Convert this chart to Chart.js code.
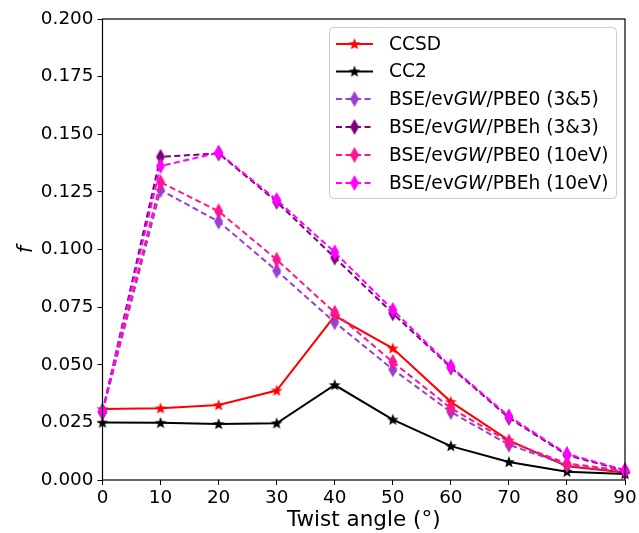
<!DOCTYPE html>
<html><head><meta charset="utf-8">
<script src="https://cdn.jsdelivr.net/npm/chart.js@4.4.0/dist/chart.umd.min.js"></script>
<style>html,body{margin:0;padding:0;background:#fff;}#wrap{width:639px;height:533px;position:relative;}</style>
</head><body><div id="wrap"><canvas id="c" width="639" height="533"></canvas></div>
<script>
const angles = [0,10,20,30,40,50,60,70,80,90];
const ccsd = [0.0308,0.0311,0.0325,0.0388,0.0712,0.0571,0.0339,0.0172,0.0060,0.0033];
const cc2 = [0.0249,0.0248,0.0243,0.0246,0.0412,0.0262,0.0147,0.0078,0.0036,0.0026];
const pbe0_35 = [0.0295,0.1258,0.1121,0.0908,0.0684,0.0480,0.0295,0.0153,0.0065,0.0037];
const pbeh_33 = [0.0295,0.1402,0.1417,0.1207,0.0965,0.0723,0.0488,0.0270,0.0108,0.0040];
const pbe0_10 = [0.0297,0.1292,0.1166,0.0956,0.0726,0.0512,0.0312,0.0166,0.0072,0.0040];
const pbeh_10 = [0.0297,0.1362,0.1420,0.1215,0.0988,0.0738,0.0492,0.0276,0.0113,0.0043];
const yTicks = [0,0.025,0.05,0.075,0.1,0.125,0.15,0.175,0.2];
const xTicks = [0,10,20,30,40,50,60,70,80,90];
const seriesNames = [
  ['CCSD'], ['CC2'],
  ['BSE/ev','GW','/PBE0 (3&5)'], ['BSE/ev','GW','/PBEh (3&3)'],
  ['BSE/ev','GW','/PBE0 (10eV)'], ['BSE/ev','GW','/PBEh (10eV)']
];
const colors = ['#ff0000','#000000','#9a3fd0','#7f007f','#ff1493','#ff00ff'];
const FONT = "'DejaVu Sans', sans-serif";

function starCanvas(color){
  const c=document.createElement('canvas'); c.width=14;c.height=14;
  const g=c.getContext('2d'); g.fillStyle=color; g.beginPath();
  const R=6.2,r=2.6,cx=7,cy=7.3;
  for(let i=0;i<10;i++){const rad=i%2?r:R;const a=-Math.PI/2+i*Math.PI/5;
    const x=cx+rad*Math.cos(a),y=cy+rad*Math.sin(a); i?g.lineTo(x,y):g.moveTo(x,y);}
  g.closePath(); g.fill(); return c;
}
function diamondCanvas(color){
  const c=document.createElement('canvas'); c.width=12;c.height=18;
  const g=c.getContext('2d'); g.fillStyle=color; g.beginPath();
  g.moveTo(6,1); g.lineTo(10.5,9); g.lineTo(6,17); g.lineTo(1.5,9); g.closePath(); g.fill(); return c;
}
const markers = colors.map((c,i)=> i<2 ? starCanvas(c) : diamondCanvas(c));
const dataArr = [ccsd,cc2,pbe0_35,pbeh_33,pbe0_10,pbeh_10];

const datasets = dataArr.map((d,i)=>({
  label: seriesNames[i].join(''),
  data: angles.map((a,j)=>({x:a,y:d[j]})),
  borderColor: colors[i], backgroundColor: colors[i],
  borderWidth: 2, borderDash: i<2?[]:[6,3.5],
  pointStyle: markers[i], pointRadius: 6, pointHoverRadius: 6,
  order: 6-i, tension:0, clip:false
}));

const layoutPlugin = {
  id:'frame',
  afterDatasetsDraw(chart){
    const {ctx, chartArea:a} = chart;
    ctx.save(); ctx.strokeStyle='#000'; ctx.lineWidth=1.2;
    ctx.strokeRect(a.left, a.top, a.right-a.left, a.bottom-a.top);
    // legend
    const bx=329.5, by=27.5, bw=287, bh=171;
    ctx.fillStyle='rgba(255,255,255,0.85)'; ctx.strokeStyle='#cccccc'; ctx.lineWidth=1;
    ctx.beginPath(); ctx.roundRect(bx,by,bw,bh,4); ctx.fill(); ctx.stroke();
    const rowY=[44,71.5,99,127,155,183];
    for(let i=0;i<6;i++){
      const y=rowY[i];
      ctx.strokeStyle=colors[i]; ctx.lineWidth=2; ctx.setLineDash(i<2?[]:[6,3.5]);
      ctx.beginPath(); ctx.moveTo(336,y); ctx.lineTo(373,y); ctx.stroke();
      ctx.setLineDash([]);
      const m=markers[i]; ctx.drawImage(m, 354.5-m.width/2, y-m.height/2);
      let x=389; ctx.fillStyle='#000'; ctx.textBaseline='middle';
      seriesNames[i].forEach((s,k)=>{
        ctx.font=(k===1?'italic ':'')+'18.6px '+FONT;
        ctx.fillText(s,x,y+1); x+=ctx.measureText(s).width;
      });
    }
    ctx.restore();
  }
};

new Chart(document.getElementById('c'),{
  type:'line',
  data:{datasets},
  options:{
    responsive:false, animation:false,
    layout:{padding:{top:19,right:14,left:0,bottom:0}},
    plugins:{legend:{display:false},tooltip:{enabled:false}},
    scales:{
      x:{type:'linear',min:0,max:90,
        afterBuildTicks(s){s.ticks=xTicks.map(v=>({value:v}));},
        afterFit(s){s.height=53;},
        grid:{drawOnChartArea:false,drawTicks:true,tickLength:5,color:'#000',tickColor:'#000'},
        border:{display:false},
        ticks:{color:'#000',font:{family:FONT,size:18.4},padding:2,maxRotation:0,autoSkip:false},
        title:{display:true,text:'Twist angle (°)',color:'#000',font:{family:FONT,size:21.5},padding:{top:0,bottom:0}}
      },
      y:{type:'linear',min:0,max:0.2,
        afterBuildTicks(s){s.ticks=yTicks.map(v=>({value:v}));},
        afterFit(s){s.width=102.5;},
        grid:{drawOnChartArea:false,drawTicks:true,tickLength:5,color:'#000',tickColor:'#000'},
        border:{display:false},
        ticks:{color:'#000',font:{family:FONT,size:18.4},padding:4,autoSkip:false,callback:v=>v.toFixed(3)},
        title:{display:true,text:'f',color:'#000',font:{family:FONT,size:21,style:'italic'},padding:{top:14,bottom:0}}
      }
    }
  },
  plugins:[layoutPlugin]
});
</script></body></html>
